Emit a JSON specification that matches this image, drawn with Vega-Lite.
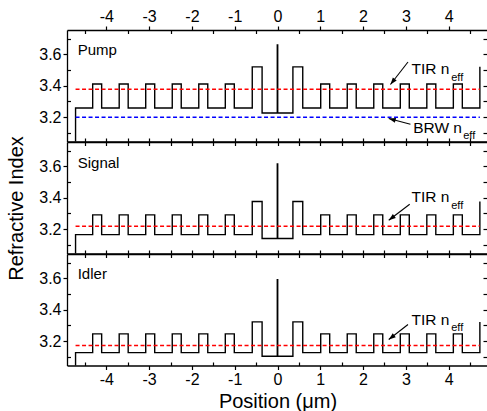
{
  "$schema": "https://vega.github.io/schema/vega-lite/v6.json",
  "padding": {"left": 6, "top": 8, "right": 0, "bottom": 0},
  "background": "white",
  "spacing": 0,
  "bounds": "flush",
  "datasets": {
    "profile": [
      {"panel":"Pump","i":0,"x":-4.72,"n":3.0},{"panel":"Pump","i":1,"x":-4.72,"n":3.259},{"panel":"Pump","i":2,"x":-4.32,"n":3.411},{"panel":"Pump","i":3,"x":-4.11,"n":3.259},{"panel":"Pump","i":4,"x":-3.70,"n":3.411},{"panel":"Pump","i":5,"x":-3.49,"n":3.259},{"panel":"Pump","i":6,"x":-3.08,"n":3.411},{"panel":"Pump","i":7,"x":-2.87,"n":3.259},{"panel":"Pump","i":8,"x":-2.46,"n":3.411},{"panel":"Pump","i":9,"x":-2.25,"n":3.259},{"panel":"Pump","i":10,"x":-1.84,"n":3.411},{"panel":"Pump","i":11,"x":-1.63,"n":3.259},{"panel":"Pump","i":12,"x":-1.22,"n":3.411},{"panel":"Pump","i":13,"x":-1.01,"n":3.259},{"panel":"Pump","i":14,"x":-0.59,"n":3.52},{"panel":"Pump","i":15,"x":-0.36,"n":3.227},{"panel":"Pump","i":16,"x":-0.005,"n":3.659},{"panel":"Pump","i":17,"x":0.005,"n":3.227},{"panel":"Pump","i":18,"x":0.36,"n":3.52},{"panel":"Pump","i":19,"x":0.59,"n":3.259},{"panel":"Pump","i":20,"x":1.01,"n":3.411},{"panel":"Pump","i":21,"x":1.22,"n":3.259},{"panel":"Pump","i":22,"x":1.63,"n":3.411},{"panel":"Pump","i":23,"x":1.84,"n":3.259},{"panel":"Pump","i":24,"x":2.25,"n":3.411},{"panel":"Pump","i":25,"x":2.46,"n":3.259},{"panel":"Pump","i":26,"x":2.87,"n":3.411},{"panel":"Pump","i":27,"x":3.08,"n":3.259},{"panel":"Pump","i":28,"x":3.49,"n":3.411},{"panel":"Pump","i":29,"x":3.70,"n":3.259},{"panel":"Pump","i":30,"x":4.11,"n":3.411},{"panel":"Pump","i":31,"x":4.32,"n":3.259},{"panel":"Pump","i":32,"x":4.73,"n":3.52},
      {"panel":"Signal","i":0,"x":-4.72,"n":3.0},{"panel":"Signal","i":1,"x":-4.72,"n":3.166},{"panel":"Signal","i":2,"x":-4.32,"n":3.291},{"panel":"Signal","i":3,"x":-4.11,"n":3.166},{"panel":"Signal","i":4,"x":-3.70,"n":3.291},{"panel":"Signal","i":5,"x":-3.49,"n":3.166},{"panel":"Signal","i":6,"x":-3.08,"n":3.291},{"panel":"Signal","i":7,"x":-2.87,"n":3.166},{"panel":"Signal","i":8,"x":-2.46,"n":3.291},{"panel":"Signal","i":9,"x":-2.25,"n":3.166},{"panel":"Signal","i":10,"x":-1.84,"n":3.291},{"panel":"Signal","i":11,"x":-1.63,"n":3.166},{"panel":"Signal","i":12,"x":-1.22,"n":3.291},{"panel":"Signal","i":13,"x":-1.01,"n":3.166},{"panel":"Signal","i":14,"x":-0.59,"n":3.376},{"panel":"Signal","i":15,"x":-0.36,"n":3.141},{"panel":"Signal","i":16,"x":-0.005,"n":3.615},{"panel":"Signal","i":17,"x":0.005,"n":3.141},{"panel":"Signal","i":18,"x":0.36,"n":3.376},{"panel":"Signal","i":19,"x":0.59,"n":3.166},{"panel":"Signal","i":20,"x":1.01,"n":3.291},{"panel":"Signal","i":21,"x":1.22,"n":3.166},{"panel":"Signal","i":22,"x":1.63,"n":3.291},{"panel":"Signal","i":23,"x":1.84,"n":3.166},{"panel":"Signal","i":24,"x":2.25,"n":3.291},{"panel":"Signal","i":25,"x":2.46,"n":3.166},{"panel":"Signal","i":26,"x":2.87,"n":3.291},{"panel":"Signal","i":27,"x":3.08,"n":3.166},{"panel":"Signal","i":28,"x":3.49,"n":3.291},{"panel":"Signal","i":29,"x":3.70,"n":3.166},{"panel":"Signal","i":30,"x":4.11,"n":3.291},{"panel":"Signal","i":31,"x":4.32,"n":3.166},{"panel":"Signal","i":32,"x":4.73,"n":3.376},
      {"panel":"Idler","i":0,"x":-4.72,"n":3.0},{"panel":"Idler","i":1,"x":-4.72,"n":3.128},{"panel":"Idler","i":2,"x":-4.32,"n":3.247},{"panel":"Idler","i":3,"x":-4.11,"n":3.128},{"panel":"Idler","i":4,"x":-3.70,"n":3.247},{"panel":"Idler","i":5,"x":-3.49,"n":3.128},{"panel":"Idler","i":6,"x":-3.08,"n":3.247},{"panel":"Idler","i":7,"x":-2.87,"n":3.128},{"panel":"Idler","i":8,"x":-2.46,"n":3.247},{"panel":"Idler","i":9,"x":-2.25,"n":3.128},{"panel":"Idler","i":10,"x":-1.84,"n":3.247},{"panel":"Idler","i":11,"x":-1.63,"n":3.128},{"panel":"Idler","i":12,"x":-1.22,"n":3.247},{"panel":"Idler","i":13,"x":-1.01,"n":3.128},{"panel":"Idler","i":14,"x":-0.59,"n":3.323},{"panel":"Idler","i":15,"x":-0.36,"n":3.105},{"panel":"Idler","i":16,"x":-0.005,"n":3.591},{"panel":"Idler","i":17,"x":0.005,"n":3.105},{"panel":"Idler","i":18,"x":0.36,"n":3.323},{"panel":"Idler","i":19,"x":0.59,"n":3.128},{"panel":"Idler","i":20,"x":1.01,"n":3.247},{"panel":"Idler","i":21,"x":1.22,"n":3.128},{"panel":"Idler","i":22,"x":1.63,"n":3.247},{"panel":"Idler","i":23,"x":1.84,"n":3.128},{"panel":"Idler","i":24,"x":2.25,"n":3.247},{"panel":"Idler","i":25,"x":2.46,"n":3.128},{"panel":"Idler","i":26,"x":2.87,"n":3.247},{"panel":"Idler","i":27,"x":3.08,"n":3.128},{"panel":"Idler","i":28,"x":3.49,"n":3.247},{"panel":"Idler","i":29,"x":3.70,"n":3.128},{"panel":"Idler","i":30,"x":4.11,"n":3.247},{"panel":"Idler","i":31,"x":4.32,"n":3.128},{"panel":"Idler","i":32,"x":4.73,"n":3.323}
    ],
    "neff": [
      {"panel":"Pump","mode":"TIR","x1":-4.72,"x2":4.73,"n":3.378},
      {"panel":"Pump","mode":"BRW","x1":-4.72,"x2":4.73,"n":3.20},
      {"panel":"Signal","mode":"TIR","x1":-4.72,"x2":4.73,"n":3.219},
      {"panel":"Idler","mode":"TIR","x1":-4.72,"x2":4.73,"n":3.173}
    ],
    "arrows": [
      {"panel":"Pump","mode":"TIR","x1":3.05,"n1":3.551,"x2":2.64,"n2":3.408},
      {"panel":"Pump","mode":"BRW","x1":3.107,"n1":3.156,"x2":2.60,"n2":3.192},
      {"panel":"Signal","mode":"TIR","x1":3.09,"n1":3.359,"x2":2.60,"n2":3.257},
      {"panel":"Idler","mode":"TIR","x1":3.05,"n1":3.306,"x2":2.60,"n2":3.211}
    ],
    "names": [
      {"panel":"Pump","label":"Pump","x":-4.67,"n":3.595},
      {"panel":"Signal","label":"Signal","x":-4.67,"n":3.59},
      {"panel":"Idler","label":"Idler","x":-4.67,"n":3.595}
    ],
    "notes": [
      {"panel":"Pump","label":"TIR n","x":3.13,"n":3.473},
      {"panel":"Pump","label":"BRW n","x":3.17,"n":3.103},
      {"panel":"Signal","label":"TIR n","x":3.13,"n":3.37},
      {"panel":"Idler","label":"TIR n","x":3.13,"n":3.306}
    ],
    "subs": [
      {"panel":"Pump","label":"eff","x":4.06,"n":3.43},
      {"panel":"Pump","label":"eff","x":4.34,"n":3.06},
      {"panel":"Signal","label":"eff","x":4.06,"n":3.327},
      {"panel":"Idler","label":"eff","x":4.06,"n":3.263}
    ]
  },
  "vconcat": [
    {
      "width": 421, "height": 111.5,
      "resolve": {"axis": {"x": "independent", "y": "independent"}},
      "layer": [
        {
          "data": {"name": "profile"},
          "transform": [{"filter": "datum.panel === 'Pump'"}],
          "mark": {"type": "line", "interpolate": "step-after", "color": "black", "strokeWidth": 1.4, "clip": true},
          "encoding": {
            "x": {"field": "x", "type": "quantitative", "scale": {"domain": [-4.92, 4.92], "nice": false},
                  "axis": {"orient": "bottom", "values": [-4.5,-4,-3.5,-3,-2.5,-2,-1.5,-1,-0.5,0,0.5,1,1.5,2,2.5,3,3.5,4,4.5], "labels": false, "title": null,
                           "tickSize": {"condition": {"test": "abs(datum.value-round(datum.value))<0.01", "value": 4}, "value": -3.5}}},
            "y": {"field": "n", "type": "quantitative", "scale": {"domain": [3.046, 3.754], "nice": false, "zero": false},
                  "axis": {"orient": "left", "values": [3.1,3.2,3.3,3.4,3.5,3.6,3.7], "title": null,
                           "labelExpr": "abs(datum.value*5-round(datum.value*5))<0.01 ? format(datum.value,'.1f') : ''",
                           "tickSize": {"condition": {"test": "abs(datum.value*5-round(datum.value*5))<0.01", "value": 4}, "value": -3.5}}},
            "order": {"field": "i", "type": "quantitative"}
          }
        },
        {
          "data": {"name": "neff"},
          "transform": [{"filter": "datum.panel === 'Pump'"}],
          "mark": {"type": "rule", "strokeWidth": 1.6, "strokeDash": [4, 2.5]},
          "encoding": {
            "x": {"field": "x1", "type": "quantitative", "scale": {"domain": [-4.92, 4.92], "nice": false},
                  "axis": {"orient": "top", "values": [-4.5,-4,-3.5,-3,-2.5,-2,-1.5,-1,-0.5,0,0.5,1,1.5,2,2.5,3,3.5,4,4.5], "title": null,
                           "labelExpr": "abs(datum.value-round(datum.value))<0.01 ? '' + round(datum.value) : ''",
                           "tickSize": {"condition": {"test": "abs(datum.value-round(datum.value))<0.01", "value": 4}, "value": -3.5}}},
            "x2": {"field": "x2"},
            "y": {"field": "n", "type": "quantitative", "scale": {"domain": [3.046, 3.754], "nice": false, "zero": false},
                  "axis": {"orient": "right", "values": [3.1,3.2,3.3,3.4,3.5,3.6,3.7], "labels": false, "title": null, "tickSize": -5}},
            "color": {"field": "mode", "type": "nominal", "scale": {"domain": ["TIR", "BRW"], "range": ["#ff0000", "#0000ff"]}, "legend": null}
          }
        },
        {
          "data": {"name": "arrows"},
          "transform": [{"filter": "datum.panel === 'Pump'"}],
          "mark": {"type": "rule", "color": "black", "strokeWidth": 1.1},
          "encoding": {
            "x": {"field": "x1", "type": "quantitative", "axis": null},
            "x2": {"field": "x2"},
            "y": {"field": "n1", "type": "quantitative", "axis": null},
            "y2": {"field": "n2"}
          }
        },
        {
          "data": {"name": "arrows"},
          "transform": [{"filter": "datum.panel === 'Pump' && datum.mode === 'TIR'"}],
          "mark": {"type": "point", "shape": "M0,0L0.7,2L-0.7,2Z", "filled": true, "color": "black", "size": 49, "angle": 218, "opacity": 1},
          "encoding": {
            "x": {"field": "x2", "type": "quantitative", "axis": null},
            "y": {"field": "n2", "type": "quantitative", "axis": null}
          }
        },
        {
          "data": {"name": "arrows"},
          "transform": [{"filter": "datum.panel === 'Pump' && datum.mode === 'BRW'"}],
          "mark": {"type": "point", "shape": "M0,0L0.7,2L-0.7,2Z", "filled": true, "color": "black", "size": 49, "angle": 285, "opacity": 1},
          "encoding": {
            "x": {"field": "x2", "type": "quantitative", "axis": null},
            "y": {"field": "n2", "type": "quantitative", "axis": null}
          }
        },
        {
          "data": {"name": "names"},
          "transform": [{"filter": "datum.panel === 'Pump'"}],
          "mark": {"type": "text", "align": "left", "baseline": "alphabetic", "fontSize": 15, "color": "black"},
          "encoding": {
            "x": {"field": "x", "type": "quantitative", "axis": null},
            "y": {"field": "n", "type": "quantitative", "axis": null},
            "text": {"field": "label"}
          }
        },
        {
          "data": {"name": "notes"},
          "transform": [{"filter": "datum.panel === 'Pump'"}],
          "mark": {"type": "text", "align": "left", "baseline": "alphabetic", "fontSize": 15.5, "color": "black"},
          "encoding": {
            "x": {"field": "x", "type": "quantitative", "axis": null},
            "y": {"field": "n", "type": "quantitative", "axis": null},
            "text": {"field": "label"}
          }
        },
        {
          "data": {"name": "subs"},
          "transform": [{"filter": "datum.panel === 'Pump'"}],
          "mark": {"type": "text", "align": "left", "baseline": "alphabetic", "fontSize": 11, "color": "black"},
          "encoding": {
            "x": {"field": "x", "type": "quantitative", "axis": null},
            "y": {"field": "n", "type": "quantitative", "axis": null},
            "text": {"field": "label"}
          }
        }
      ]
    },
    {
      "width": 421, "height": 111.5,
      "resolve": {"axis": {"x": "independent", "y": "independent"}},
      "layer": [
        {
          "data": {"name": "profile"},
          "transform": [{"filter": "datum.panel === 'Signal'"}],
          "mark": {"type": "line", "interpolate": "step-after", "color": "black", "strokeWidth": 1.4, "clip": true},
          "encoding": {
            "x": {"field": "x", "type": "quantitative", "scale": {"domain": [-4.92, 4.92], "nice": false},
                  "axis": {"orient": "bottom", "values": [-4.5,-4,-3.5,-3,-2.5,-2,-1.5,-1,-0.5,0,0.5,1,1.5,2,2.5,3,3.5,4,4.5], "labels": false, "title": null,
                           "tickSize": {"condition": {"test": "abs(datum.value-round(datum.value))<0.01", "value": 4}, "value": -3.5}}},
            "y": {"field": "n", "type": "quantitative", "scale": {"domain": [3.046, 3.754], "nice": false, "zero": false},
                  "axis": {"orient": "left", "values": [3.1,3.2,3.3,3.4,3.5,3.6,3.7], "title": "Refractive Index", "titlePadding": 12, "titleY": 66,
                           "labelExpr": "abs(datum.value*5-round(datum.value*5))<0.01 ? format(datum.value,'.1f') : ''",
                           "tickSize": {"condition": {"test": "abs(datum.value*5-round(datum.value*5))<0.01", "value": 4}, "value": -3.5}}},
            "order": {"field": "i", "type": "quantitative"}
          }
        },
        {
          "data": {"name": "neff"},
          "transform": [{"filter": "datum.panel === 'Signal'"}],
          "mark": {"type": "rule", "strokeWidth": 1.6, "strokeDash": [4, 2.5]},
          "encoding": {
            "x": {"field": "x1", "type": "quantitative", "scale": {"domain": [-4.92, 4.92], "nice": false},
                  "axis": {"orient": "top", "values": [-4.5,-4,-3.5,-3,-2.5,-2,-1.5,-1,-0.5,0,0.5,1,1.5,2,2.5,3,3.5,4,4.5], "labels": false, "title": null,
                           "tickSize": {"condition": {"test": "abs(datum.value-round(datum.value))<0.01", "value": 4}, "value": -3.5}}},
            "x2": {"field": "x2"},
            "y": {"field": "n", "type": "quantitative", "scale": {"domain": [3.046, 3.754], "nice": false, "zero": false},
                  "axis": {"orient": "right", "values": [3.1,3.2,3.3,3.4,3.5,3.6,3.7], "labels": false, "title": null, "tickSize": -5}},
            "color": {"field": "mode", "type": "nominal", "scale": {"domain": ["TIR", "BRW"], "range": ["#ff0000", "#0000ff"]}, "legend": null}
          }
        },
        {
          "data": {"name": "arrows"},
          "transform": [{"filter": "datum.panel === 'Signal'"}],
          "mark": {"type": "rule", "color": "black", "strokeWidth": 1.1},
          "encoding": {
            "x": {"field": "x1", "type": "quantitative", "axis": null},
            "x2": {"field": "x2"},
            "y": {"field": "n1", "type": "quantitative", "axis": null},
            "y2": {"field": "n2"}
          }
        },
        {
          "data": {"name": "arrows"},
          "transform": [{"filter": "datum.panel === 'Signal'"}],
          "mark": {"type": "point", "shape": "M0,0L0.7,2L-0.7,2Z", "filled": true, "color": "black", "size": 49, "angle": 233, "opacity": 1},
          "encoding": {
            "x": {"field": "x2", "type": "quantitative", "axis": null},
            "y": {"field": "n2", "type": "quantitative", "axis": null}
          }
        },
        {
          "data": {"name": "names"},
          "transform": [{"filter": "datum.panel === 'Signal'"}],
          "mark": {"type": "text", "align": "left", "baseline": "alphabetic", "fontSize": 15, "color": "black"},
          "encoding": {
            "x": {"field": "x", "type": "quantitative", "axis": null},
            "y": {"field": "n", "type": "quantitative", "axis": null},
            "text": {"field": "label"}
          }
        },
        {
          "data": {"name": "notes"},
          "transform": [{"filter": "datum.panel === 'Signal'"}],
          "mark": {"type": "text", "align": "left", "baseline": "alphabetic", "fontSize": 15.5, "color": "black"},
          "encoding": {
            "x": {"field": "x", "type": "quantitative", "axis": null},
            "y": {"field": "n", "type": "quantitative", "axis": null},
            "text": {"field": "label"}
          }
        },
        {
          "data": {"name": "subs"},
          "transform": [{"filter": "datum.panel === 'Signal'"}],
          "mark": {"type": "text", "align": "left", "baseline": "alphabetic", "fontSize": 11, "color": "black"},
          "encoding": {
            "x": {"field": "x", "type": "quantitative", "axis": null},
            "y": {"field": "n", "type": "quantitative", "axis": null},
            "text": {"field": "label"}
          }
        }
      ]
    },
    {
      "width": 421, "height": 111.5,
      "resolve": {"axis": {"x": "independent", "y": "independent"}},
      "layer": [
        {
          "data": {"name": "profile"},
          "transform": [{"filter": "datum.panel === 'Idler'"}],
          "mark": {"type": "line", "interpolate": "step-after", "color": "black", "strokeWidth": 1.4, "clip": true},
          "encoding": {
            "x": {"field": "x", "type": "quantitative", "scale": {"domain": [-4.92, 4.92], "nice": false},
                  "axis": {"orient": "bottom", "values": [-4.5,-4,-3.5,-3,-2.5,-2,-1.5,-1,-0.5,0,0.5,1,1.5,2,2.5,3,3.5,4,4.5], "title": "Position (μm)", "titlePadding": 4,
                           "labelExpr": "abs(datum.value-round(datum.value))<0.01 ? '' + round(datum.value) : ''",
                           "tickSize": {"condition": {"test": "abs(datum.value-round(datum.value))<0.01", "value": 4}, "value": -3.5}}},
            "y": {"field": "n", "type": "quantitative", "scale": {"domain": [3.046, 3.754], "nice": false, "zero": false},
                  "axis": {"orient": "left", "values": [3.1,3.2,3.3,3.4,3.5,3.6,3.7], "title": null,
                           "labelExpr": "abs(datum.value*5-round(datum.value*5))<0.01 ? format(datum.value,'.1f') : ''",
                           "tickSize": {"condition": {"test": "abs(datum.value*5-round(datum.value*5))<0.01", "value": 4}, "value": -3.5}}},
            "order": {"field": "i", "type": "quantitative"}
          }
        },
        {
          "data": {"name": "neff"},
          "transform": [{"filter": "datum.panel === 'Idler'"}],
          "mark": {"type": "rule", "strokeWidth": 1.6, "strokeDash": [4, 2.5]},
          "encoding": {
            "x": {"field": "x1", "type": "quantitative", "scale": {"domain": [-4.92, 4.92], "nice": false},
                  "axis": {"orient": "top", "values": [-4.5,-4,-3.5,-3,-2.5,-2,-1.5,-1,-0.5,0,0.5,1,1.5,2,2.5,3,3.5,4,4.5], "labels": false, "title": null,
                           "tickSize": {"condition": {"test": "abs(datum.value-round(datum.value))<0.01", "value": 4}, "value": -3.5}}},
            "x2": {"field": "x2"},
            "y": {"field": "n", "type": "quantitative", "scale": {"domain": [3.046, 3.754], "nice": false, "zero": false},
                  "axis": {"orient": "right", "values": [3.1,3.2,3.3,3.4,3.5,3.6,3.7], "labels": false, "title": null, "tickSize": -5}},
            "color": {"field": "mode", "type": "nominal", "scale": {"domain": ["TIR", "BRW"], "range": ["#ff0000", "#0000ff"]}, "legend": null}
          }
        },
        {
          "data": {"name": "arrows"},
          "transform": [{"filter": "datum.panel === 'Idler'"}],
          "mark": {"type": "rule", "color": "black", "strokeWidth": 1.1},
          "encoding": {
            "x": {"field": "x1", "type": "quantitative", "axis": null},
            "x2": {"field": "x2"},
            "y": {"field": "n1", "type": "quantitative", "axis": null},
            "y2": {"field": "n2"}
          }
        },
        {
          "data": {"name": "arrows"},
          "transform": [{"filter": "datum.panel === 'Idler'"}],
          "mark": {"type": "point", "shape": "M0,0L0.7,2L-0.7,2Z", "filled": true, "color": "black", "size": 49, "angle": 232, "opacity": 1},
          "encoding": {
            "x": {"field": "x2", "type": "quantitative", "axis": null},
            "y": {"field": "n2", "type": "quantitative", "axis": null}
          }
        },
        {
          "data": {"name": "names"},
          "transform": [{"filter": "datum.panel === 'Idler'"}],
          "mark": {"type": "text", "align": "left", "baseline": "alphabetic", "fontSize": 15, "color": "black"},
          "encoding": {
            "x": {"field": "x", "type": "quantitative", "axis": null},
            "y": {"field": "n", "type": "quantitative", "axis": null},
            "text": {"field": "label"}
          }
        },
        {
          "data": {"name": "notes"},
          "transform": [{"filter": "datum.panel === 'Idler'"}],
          "mark": {"type": "text", "align": "left", "baseline": "alphabetic", "fontSize": 15.5, "color": "black"},
          "encoding": {
            "x": {"field": "x", "type": "quantitative", "axis": null},
            "y": {"field": "n", "type": "quantitative", "axis": null},
            "text": {"field": "label"}
          }
        },
        {
          "data": {"name": "subs"},
          "transform": [{"filter": "datum.panel === 'Idler'"}],
          "mark": {"type": "text", "align": "left", "baseline": "alphabetic", "fontSize": 11, "color": "black"},
          "encoding": {
            "x": {"field": "x", "type": "quantitative", "axis": null},
            "y": {"field": "n", "type": "quantitative", "axis": null},
            "text": {"field": "label"}
          }
        }
      ]
    }
  ],
  "config": {
    "font": "Liberation Sans",
    "view": {"stroke": null},
    "axis": {
      "grid": false,
      "domainColor": "black", "domainWidth": 1.3,
      "tickColor": "black", "tickWidth": 1.2,
      "labelColor": "black", "labelFont": "Liberation Sans", "labelFontSize": 16, "labelPadding": 2,
      "titleColor": "black", "titleFont": "Liberation Sans", "titleFontSize": 20, "titleFontWeight": "normal"
    }
  }
}
